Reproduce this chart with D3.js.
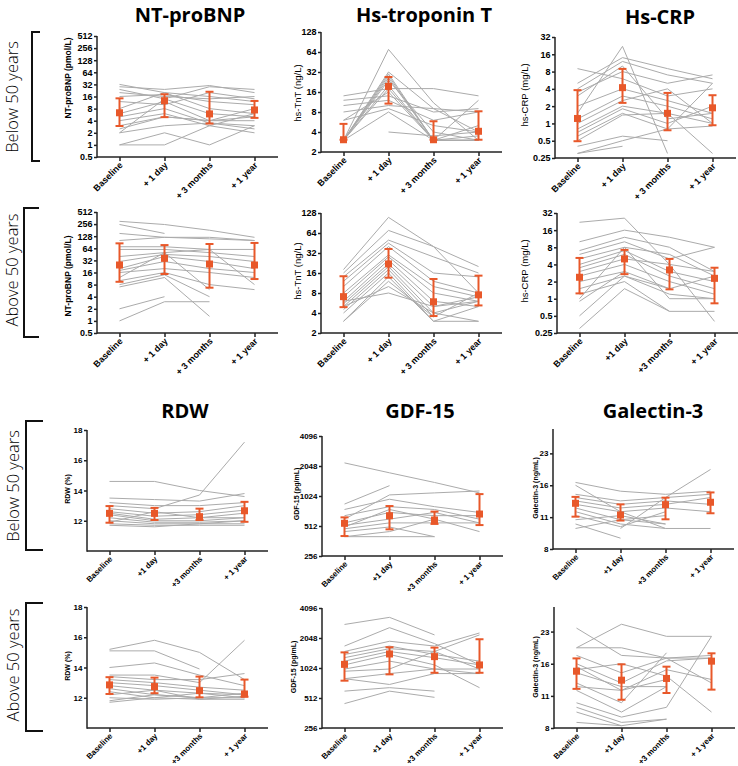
<!DOCTYPE html>
<html>
<head>
<meta charset="utf-8">
<script src="https://cdn.jsdelivr.net/npm/d3@7"></script>
<style>
body { margin: 0; background: #fff; }
svg { display: block; }
text { font-family: "Liberation Sans", Arial, sans-serif; }
</style>
</head>
<body>
<svg width="738" height="766"></svg>
<script>
// time points
var catsA = ["Baseline", "+ 1 day", "+ 3 months", "+ 1 year"];
var catsB = ["Baseline", "+1 day", "+3 months", "+ 1 year"];

// y tick values
var ntTicks = [0.5, 1, 2, 4, 8, 16, 32, 64, 128, 256, 512];
var tnTicks = [2, 4, 8, 16, 32, 64, 128];
var crpTicks = [0.25, 0.5, 1, 2, 4, 8, 16, 32];
var rdwTicks = [12, 14, 16, 18];
var gdfTicks = [256, 512, 1024, 2048, 4096];
var galTicks = [8, 11.31, 16, 22.63];

// NT-proBNP, below 50
var ntBelowLines = [
  [32, 20, 16, 12], [28, 24, 30, 20], [24, 14, 28, 24], [20, 16, 14, 16],
  [16, 18, 12, 10], [12, 10, 20, 14], [8, 20, 8, 6], [6, 12, 4, 4],
  [5, 8, 3.5, 3], [4, 6, 3, 6], [3, 5, 4, 8], [2, 14, 6, 5],
  [2, 3, 3.5, 2.5], [1, 2, 1, 3], [1, 1, 3, 2], [2.5, 5, 4, 5]
];
var ntBelowMean = [6.3, 12.6, 5.9, 7.4];
var ntBelowLo = [2.95, 4.9, 3.4, 4.7];
var ntBelowHi = [14.4, 18.2, 21, 12.4];

// hs-TnT, below 50
var tnBelowLines = [
  [3, 70, 11, 3], [3, 32, 9, 4], [3, 30, 3, 3], [3, 28, 3, 5],
  [3, 26, 3, 3], [3, 24, 4, 3], [3, 20, 3, 3], [3, 18, 3, 3.5],
  [6, 16, 3, 12], [14, 18, 18, 14], [12, 14, 8, 9], [10, 12, 6, 8],
  [8, 10, 9, 8], [6, 9, 5, 4], [3, 8, 3, 3], [null, 4, 3.5, 4]
];
var tnBelowMean = [3.06, 19.4, 3.06, 4.1];
var tnBelowLo = [3.06, 10.7, 3.06, 3.06];
var tnBelowHi = [5.3, 26.9, 5.8, 8.2];

// hs-CRP, below 50
var crpBelowLines = [
  [9, 6, 3, 4], [5, 14, 9, 6], [4, 12, 7, 5], [3.5, 8, 5, 7],
  [3, 10, 1.2, 1.5], [2, 4, 2.5, 1.5], [1.5, 22, 0.3, null], [1.2, 3, 2, 1.2],
  [1, 2.5, 4, 1], [0.8, 2, 1.5, 1], [0.7, 1.8, 1, 2], [0.6, 1.5, 0.8, 0.9],
  [0.5, 1.4, 1.5, 0.3], [0.4, 0.6, 0.5, null], [0.3, 0.5, 0.8, 5], [0.3, 0.4, null, null]
];
var crpBelowMean = [1.22, 4.2, 1.5, 1.87];
var crpBelowLo = [0.49, 2.28, 0.76, 0.93];
var crpBelowHi = [3.8, 8.9, 3.4, 3.1];

// NT-proBNP, above 50
var ntAboveLines = [
  [300, 250, 180, 120], [250, 150, null, null], [150, 120, 120, 100], [100, 120, 110, 100],
  [70, 70, 60, 60], [60, 60, 50, 40], [40, 50, 60, 8], [30, 45, 40, 30],
  [20, 40, 30, 20], [18, 30, 20, 16], [16, 20, 16, 12], [12, 50, 6, null],
  [10, 16, 8, 6], [8, 14, 4, null], [7, 12, 1.3, null], [2, 4, null, null], [1, 3, 3, null]
];
var ntAboveMean = [24.6, 36, 26, 24.6];
var ntAboveLo = [9.4, 14.7, 6.7, 11];
var ntAboveHi = [85, 77, 82, 87];

// hs-TnT, above 50
var tnAboveLines = [
  [18, 110, 40, 8], [16, 70, 40, 20], [14, 50, 28, 16], [12, 45, 16, 14],
  [10, 40, 12, 8], [8, 30, 10, 7], [7, 28, 8, 6], [6, 25, 6, 5],
  [5.5, 22, 5, 6], [5, 20, 4, 3], [4.5, 18, 3.5, 8], [4, 16, 3, 5],
  [3, 14, 3, 3], [3, 12, 3.5, null], [5, 10, 4, 6], [6, 8, 5, 7]
];
var tnAboveMean = [7.05, 21.9, 5.9, 7.5];
var tnAboveLo = [4.9, 13.6, 3.6, 5.2];
var tnAboveHi = [14.3, 36.8, 13, 14.6];

// hs-CRP, above 50
var crpAboveLines = [
  [22, 26, 4, 0.4], [10, 16, 12, 8], [7, 12, 8, 3], [6, 10, 5, 8],
  [5, 8, 6, 2.5], [4, 7, 3, 2], [3.5, 6, 2.5, 1.5], [3, 5, 4, 3],
  [2.5, 4, 2, 1.2], [2, 3, 1.5, 2.5], [1.5, 2.5, 1.2, 1], [1.2, 2, 0.6, 0.6],
  [1, 8, 1, 1], [0.9, 3, null, null], [0.5, 2.5, 1.5, null], [0.3, 1.5, 0.6, null]
];
var crpAboveMean = [2.38, 5.0, 3.2, 2.28];
var crpAboveLo = [1.24, 2.7, 1.46, 0.83];
var crpAboveHi = [5.2, 7.2, 5.0, 3.5];

// RDW, below 50
var rdwBelowLines = [
  [14.6, 14.6, 14.0, 13.6], [13.5, 13.4, 13.3, 13.8], [13.2, 13.0, 13.0, 13.2], [13.0, 12.8, 13.7, 17.2],
  [12.8, 12.5, 12.6, 13.0], [12.6, 12.3, 12.4, 12.7], [12.5, 12.1, 12.2, 12.5], [12.4, 12.0, 12.0, 12.2],
  [12.2, 11.9, 11.9, 12.0], [12.0, 11.8, 11.8, 11.8], [11.9, 12.6, 12.2, 12.2], [11.8, 11.7, 11.7, 11.7],
  [11.7, 11.6, 11.8, 12.0]
];
var rdwBelowMean = [12.49, 12.49, 12.27, 12.66];
var rdwBelowLo = [11.87, 12.05, 12.05, 11.93];
var rdwBelowHi = [12.97, 12.85, 12.8, 13.25];

// GDF-15, below 50
var gdfBelowLines = [
  [2200, 1750, 1400, 1100], [850, 1300, null, null], [750, 950, 800, 700], [650, 800, 750, 600],
  [600, 1050, 1100, 1150], [550, 700, 650, 650], [520, 600, 700, 550], [500, 750, 600, 450],
  [480, 550, 550, 550], [450, 500, 400, null], [400, 450, 600, null], [400, 400, 400, null]
];
var gdfBelowMean = [545, 649, 588, 675];
var gdfBelowLo = [406, 474, 537, 523];
var gdfBelowHi = [625, 812, 714, 1070];

// Galectin-3, below 50
var galBelowLines = [
  [16.5, 15, 14.5, 15], [16, 12, 10, null], [14.5, 13.5, 14, 14.5], [14, 13, 13.5, 13],
  [13.5, 12.5, 13, 14], [13, 12, 12.5, 12], [12.5, 11, 11.5, null], [12, 10.5, 10, 10],
  [11.5, 10.2, 12, null], [11, 11.5, 10.5, null], [10.5, 9, null, null], [10, 11, 10.5, null],
  [null, 10, 14, 19]
];
var galBelowMean = [13.15, 11.58, 12.96, 13.3];
var galBelowLo = [11.37, 10.9, 11.05, 11.8];
var galBelowHi = [14.1, 13.0, 13.98, 14.8];

// RDW, above 50
var rdwAboveLines = [
  [15.2, 15.8, 15.0, 13.2], [15.1, 15.1, 13.9, null], [14.0, 14.3, 13.5, 12.8], [13.5, 13.5, 13.0, 15.8],
  [13.4, 13.2, 13.2, 13.6], [13.2, 13.0, 12.7, 12.5], [13.0, 12.8, 12.5, 12.2], [12.8, 12.5, 12.3, 12.0],
  [12.6, 12.2, 12.0, 12.3], [12.4, 12.0, 12.3, 12.2], [12.2, 12.5, 11.9, 11.9], [12.0, 11.9, 12.0, 12.0],
  [11.8, 12.2, 12.0, null], [11.7, 12.0, 11.9, 12.1]
];
var rdwAboveMean = [12.85, 12.74, 12.47, 12.25];
var rdwAboveLo = [12.25, 12.3, 12.03, 12.07];
var rdwAboveHi = [13.36, 13.33, 13.4, 13.2];

// GDF-15, above 50
var gdfAboveLines = [
  [2800, 3300, 2200, null], [1700, 2600, 1800, 1100], [1500, 1900, 1700, 2300], [1400, 1700, 1400, 1200],
  [1300, 1600, 1500, 1000], [1200, 1500, 1300, 1100], [1100, 1400, 1100, 650], [1000, 1200, 1000, 900],
  [950, 1000, 1500, 2200], [800, 900, 1000, 1000], [800, 700, 900, 900], [600, 650, 600, null],
  [450, 600, 520, null]
];
var gdfAboveMean = [1114, 1416, 1332, 1099];
var gdfAboveLo = [764, 884, 917, 917];
var gdfAboveHi = [1469, 1655, 1640, 1990];

// Galectin-3, above 50
var galAboveLines = [
  [23.5, 17.5, 17, 17], [19, 19, 17, 13], [19, 24.5, 21.5, 21.5], [17.5, 14.5, 17, 17.5],
  [16, 13, 16.5, 17], [15.5, 12, 15, 13.5], [15, 16, 14, 9.5], [14.5, 12.5, 12.5, null],
  [13, 10.5, 18, null], [12.5, 12, 13.5, null], [12, 9.5, 12.5, null], [10.5, 9, 10, 21.5],
  [10, 8.5, 8.8, null], [9.5, 8.2, null, null], [8.5, 8.2, 8.8, null]
];
var galAboveMean = [14.76, 13.4, 13.65, 16.45];
var galAboveLo = [12.2, 10.85, 11.67, 12.1];
var galAboveHi = [16.95, 15.9, 15.5, 17.9];

var orange = "#e8582a";
var grey = "#ababab";

var svg = d3.select("svg");

// layout of the 12 panels
var panels = [
  {lines: ntBelowLines, mean: ntBelowMean, lo: ntBelowLo, hi: ntBelowHi, ax: 97, y0: 157, y1: 36,
   kind: "log", domain: [0.5, 512], ticks: ntTicks, cats: catsA, fs: 9,
   ylabel: "NT-proBNP (pmol/L)", lx: 71, ly: 78, lfs: 8.5, lw: "bold"},
  {lines: tnBelowLines, mean: tnBelowMean, lo: tnBelowLo, hi: tnBelowHi, ax: 321, y0: 152, y1: 32,
   kind: "log", domain: [2, 128], ticks: tnTicks, cats: catsA, fs: 9,
   ylabel: "hs-TnT (ng/L)", lx: 301, ly: 93, lfs: 9.5, lw: "normal"},
  {lines: crpBelowLines, mean: crpBelowMean, lo: crpBelowLo, hi: crpBelowHi, ax: 555, y0: 158, y1: 37,
   kind: "log", domain: [0.25, 32], ticks: crpTicks, cats: catsA, fs: 9,
   ylabel: "hs-CRP (mg/L)", lx: 528, ly: 95, lfs: 9.5, lw: "normal"},
  {lines: ntAboveLines, mean: ntAboveMean, lo: ntAboveLo, hi: ntAboveHi, ax: 97, y0: 333, y1: 212,
   kind: "log", domain: [0.5, 512], ticks: ntTicks, cats: catsA, fs: 9,
   ylabel: "NT-proBNP (pmol/L)", lx: 71, ly: 276, lfs: 8.5, lw: "bold"},
  {lines: tnAboveLines, mean: tnAboveMean, lo: tnAboveLo, hi: tnAboveHi, ax: 321, y0: 333, y1: 213,
   kind: "log", domain: [2, 128], ticks: tnTicks, cats: catsA, fs: 9,
   ylabel: "hs-TnT (ng/L)", lx: 301, ly: 271, lfs: 9.5, lw: "normal"},
  {lines: crpAboveLines, mean: crpAboveMean, lo: crpAboveLo, hi: crpAboveHi, ax: 557, y0: 333, y1: 213,
   kind: "log", domain: [0.25, 32], ticks: crpTicks, cats: catsB, fs: 9,
   ylabel: "hs-CRP (mg/L)", lx: 528, ly: 271, lfs: 9.5, lw: "normal"},
  {lines: rdwBelowLines, mean: rdwBelowMean, lo: rdwBelowLo, hi: rdwBelowHi, ax: 87, y0: 551, y1: 430,
   kind: "lin", domain: [10, 18], ticks: rdwTicks, cats: catsB, fs: 8,
   ylabel: "RDW (%)", lx: 70, ly: 489, lfs: 7, lw: "bold"},
  {lines: gdfBelowLines, mean: gdfBelowMean, lo: gdfBelowLo, hi: gdfBelowHi, ax: 322, y0: 556, y1: 436,
   kind: "log", domain: [256, 4096], ticks: gdfTicks, cats: catsB, fs: 8,
   ylabel: "GDF-15 (pg/mL)", lx: 299, ly: 494, lfs: 7, lw: "bold"},
  {lines: galBelowLines, mean: galBelowMean, lo: galBelowLo, hi: galBelowHi, ax: 553, y0: 549, y1: 429,
   kind: "log", domain: [8, 29.5], ticks: galTicks, cats: catsB, fs: 8,
   ylabel: "Galectin-3 (ng/mL)", lx: 538, ly: 488, lfs: 7, lw: "bold"},
  {lines: rdwAboveLines, mean: rdwAboveMean, lo: rdwAboveLo, hi: rdwAboveHi, ax: 87, y0: 728, y1: 607,
   kind: "lin", domain: [10, 18], ticks: rdwTicks, cats: catsB, fs: 8,
   ylabel: "RDW (%)", lx: 70, ly: 666, lfs: 7, lw: "bold"},
  {lines: gdfAboveLines, mean: gdfAboveMean, lo: gdfAboveLo, hi: gdfAboveHi, ax: 322, y0: 728, y1: 608,
   kind: "log", domain: [256, 4096], ticks: gdfTicks, cats: catsB, fs: 8,
   ylabel: "GDF-15 (pg/mL)", lx: 296, ly: 667, lfs: 7, lw: "bold"},
  {lines: galAboveLines, mean: galAboveMean, lo: galAboveLo, hi: galAboveHi, ax: 554, y0: 728, y1: 607,
   kind: "log", domain: [8, 29.5], ticks: galTicks, cats: catsB, fs: 8,
   ylabel: "Galectin-3 (ng/mL)", lx: 538, ly: 667, lfs: 7, lw: "bold"}
];

var titles = [
  {text: "NT-proBNP", x: 190, y: 22},
  {text: "Hs-troponin T", x: 424, y: 22},
  {text: "Hs-CRP", x: 660, y: 24},
  {text: "RDW", x: 185, y: 418},
  {text: "GDF-15", x: 420, y: 418},
  {text: "Galectin-3", x: 653, y: 418}
];

var groups = [
  {text: "Below 50 years", tx: 18, ty: 97, bx: 32, arm: 40, top: 32, bottom: 161},
  {text: "Above 50 years", tx: 18, ty: 270, bx: 24, arm: 39, top: 208, bottom: 337},
  {text: "Below 50 years", tx: 18.5, ty: 486, bx: 26, arm: 43, top: 421, bottom: 550},
  {text: "Above 50 years", tx: 18.5, ty: 665, bx: 26, arm: 43, top: 603, bottom: 731}
];

panels.forEach(drawPanel);

function drawPanel(p) {
  var x = d3.scalePoint()
      .domain(p.cats)
      .range([p.ax, p.ax + 180])
      .padding(0.5);

  var y = (p.kind == "log" ? d3.scaleLog() : d3.scaleLinear())
      .domain(p.domain)
      .range([p.y0, p.y1]);

  var g = svg.append("g");

  var line = d3.line()
      .defined(function(d) { return d != null; })
      .x(function(d, i) { return x(p.cats[i]); })
      .y(function(d) { return y(d); });

  g.append("g")
      .attr("fill", "none")
      .attr("stroke", grey)
      .attr("stroke-width", 1)
    .selectAll("path")
    .data(p.lines)
    .enter().append("path")
      .attr("d", line);

  // x axis
  var xa = g.append("g")
      .attr("transform", "translate(0," + p.y0 + ")")
      .call(d3.axisBottom(x).tickSize(4).tickSizeOuter(0));
  xa.select(".domain").attr("d", "M" + p.ax + ",0H" + (p.ax + 181));
  xa.selectAll("text")
      .attr("x", 0).attr("y", 0).attr("dy", "0.35em")
      .attr("transform", "translate(1,6.5) rotate(-45)")
      .style("text-anchor", "end")
      .style("font-weight", "bold")
      .style("font-size", p.fs + "px")
      .style("font-family", "'Liberation Sans', Arial, sans-serif");

  // y axis
  var ya = g.append("g")
      .attr("transform", "translate(" + p.ax + ",0)")
      .call(d3.axisLeft(y).tickValues(p.ticks).tickSize(3).tickSizeOuter(0).tickPadding(1.5)
        .tickFormat(function(d) { return p.domain[0] == 8 ? Math.round(d) : d; }));
  ya.selectAll("text")
      .style("font-weight", "bold")
      .style("font-size", p.fs + "px")
      .style("font-family", "'Liberation Sans', Arial, sans-serif");

  g.selectAll(".domain, .tick line")
      .attr("stroke", "#222")
      .attr("stroke-width", 1.5);
  ya.select(".domain").attr("d", "M0," + (p.y0 + 0.75) + "V" + p.y1);

  g.append("text")
      .attr("transform", "translate(" + p.lx + "," + p.ly + ") rotate(-90)")
      .attr("text-anchor", "middle")
      .style("font-size", p.lfs + "px")
      .style("font-weight", p.lw)
      .text(p.ylabel);

  // medians with error bars
  var m = g.append("g")
      .attr("stroke", orange)
      .attr("stroke-width", 2)
      .attr("fill", orange);

  p.cats.forEach(function(c, i) {
    var cx = x(c);
    m.append("line").attr("x1", cx).attr("x2", cx).attr("y1", y(p.lo[i])).attr("y2", y(p.hi[i]));
    m.append("line").attr("x1", cx - 4).attr("x2", cx + 4).attr("y1", y(p.lo[i])).attr("y2", y(p.lo[i]));
    m.append("line").attr("x1", cx - 4).attr("x2", cx + 4).attr("y1", y(p.hi[i])).attr("y2", y(p.hi[i]));
    m.append("rect")
        .attr("x", cx - 3.5).attr("y", y(p.mean[i]) - 3.5)
        .attr("width", 7).attr("height", 7)
        .attr("stroke", "none");
  });
}

svg.selectAll(".title")
    .data(titles)
    .enter().append("text")
    .attr("class", "title")
    .attr("x", function(d) { return d.x; })
    .attr("y", function(d) { return d.y; })
    .attr("text-anchor", "middle")
    .style("font-family", "'Open Sans', sans-serif")
    .style("font-weight", "bold")
    .style("font-size", "20px")
    .text(function(d) { return d.text; });

groups.forEach(function(gr) {
  svg.append("path")
      .attr("d", "M" + gr.arm + "," + gr.top + "H" + gr.bx + "V" + gr.bottom + "H" + gr.arm)
      .attr("fill", "none")
      .attr("stroke", "#111")
      .attr("stroke-width", 2);
  svg.append("text")
      .attr("transform", "translate(" + gr.tx + "," + gr.ty + ") rotate(-90)")
      .attr("text-anchor", "middle")
      .style("font-family", "'Open Sans', sans-serif")
      .style("font-weight", 300)
      .style("font-size", "16.5px")
      .text(gr.text);
});
</script>
</body>
</html>
